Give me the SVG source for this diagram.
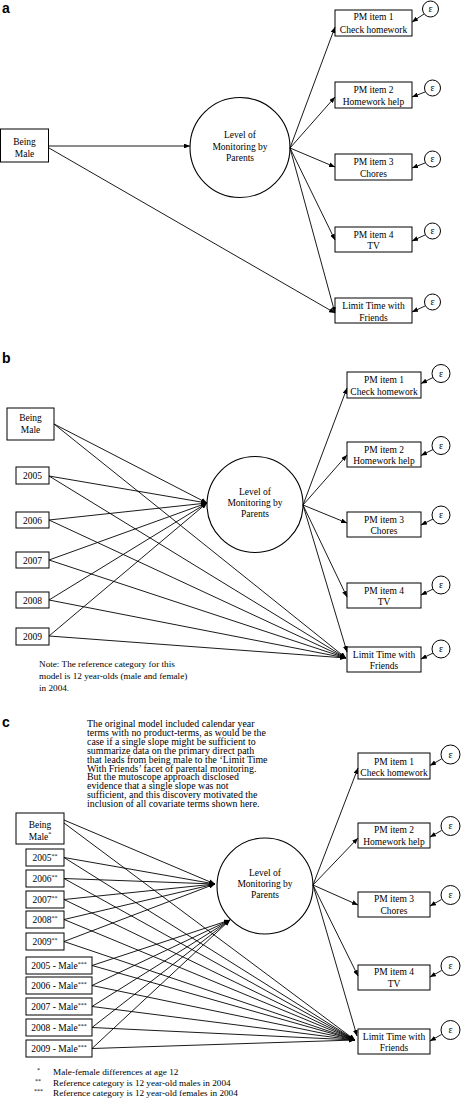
<svg xmlns="http://www.w3.org/2000/svg" width="461" height="1098" viewBox="0 0 461 1098">
<defs>
<marker id="ah" viewBox="0 0 10 8" refX="10" refY="4" markerWidth="6" markerHeight="4.8" markerUnits="userSpaceOnUse" orient="auto"><path d="M0,0 L10,4 L0,8 z" fill="#000"/></marker>
</defs>
<style>
.bx{fill:#fff;stroke:#000;stroke-width:1}
.lv{fill:#fff;stroke:#000;stroke-width:1.1}
.ep{fill:#fff;stroke:#000;stroke-width:1}
.t{font-family:"Liberation Serif","Times New Roman",serif;font-size:9.5px;fill:#000;text-anchor:middle}
.e{font-family:"Liberation Serif","Times New Roman",serif;font-size:10px;fill:#000;text-anchor:middle}
.p{font-family:"Liberation Serif","Times New Roman",serif;font-size:9.9px;fill:#000}
.f{font-family:"Liberation Serif","Times New Roman",serif;font-size:9.2px;fill:#000}
.lab{font-family:"Liberation Sans",Arial,sans-serif;font-weight:bold;font-size:14px;fill:#000}
.sup{font-size:6px}
#connectors line{stroke:#000;stroke-width:0.9;marker-end:url(#ah)}
</style>
<rect width="461" height="1098" fill="#fff"/>

<!-- panel labels -->
<text class="lab" x="2" y="13">a</text>
<text class="lab" x="2" y="363">b</text>
<text class="lab" x="2" y="727">c</text>

<!-- ===== Panel a nodes ===== -->
<g id="a-male"><rect class="bx" x="0.5" y="129" width="48" height="33"/><text class="t" x="24.5" y="145">Being</text><text class="t" x="24.5" y="157">Male</text></g>
<g id="a-lmp"><circle class="lv" cx="240" cy="147.5" r="50"/><text class="t" x="240" y="138">Level of</text><text class="t" x="240" y="149.5">Monitoring by</text><text class="t" x="240" y="160.5">Parents</text></g>
<g id="a-pm1"><rect class="bx" x="335" y="10" width="77" height="26"/><text class="t" x="373.5" y="20">PM item 1</text><text class="t" x="373.5" y="32.5">Check homework</text></g>
<g id="a-pm2"><rect class="bx" x="335" y="82" width="77" height="26"/><text class="t" x="373.5" y="92.5">PM item 2</text><text class="t" x="373.5" y="104.5">Homework help</text></g>
<g id="a-pm3"><rect class="bx" x="335" y="154" width="77" height="26"/><text class="t" x="373.5" y="164.5">PM item 3</text><text class="t" x="373.5" y="176.5">Chores</text></g>
<g id="a-pm4"><rect class="bx" x="335" y="227" width="77" height="25"/><text class="t" x="373.5" y="237.5">PM item 4</text><text class="t" x="373.5" y="249">TV</text></g>
<g id="a-lim"><rect class="bx" x="335" y="298" width="77" height="25"/><text class="t" x="373.5" y="308.5">Limit Time with</text><text class="t" x="373.5" y="320.5">Friends</text></g>
<g id="a-e1"><circle class="ep" cx="430.5" cy="9" r="8"/><text class="e" x="430.5" y="12">ε</text></g>
<g id="a-e2"><circle class="ep" cx="432.5" cy="88" r="8"/><text class="e" x="432.5" y="91">ε</text></g>
<g id="a-e3"><circle class="ep" cx="432.5" cy="159" r="8"/><text class="e" x="432.5" y="162">ε</text></g>
<g id="a-e4"><circle class="ep" cx="432.5" cy="231" r="8"/><text class="e" x="432.5" y="234">ε</text></g>
<g id="a-e5"><circle class="ep" cx="432.5" cy="302" r="8"/><text class="e" x="432.5" y="305">ε</text></g>

<!-- ===== Panel b nodes ===== -->
<g id="b-male"><rect class="bx" x="7" y="408" width="47" height="32"/><text class="t" x="30.5" y="421">Being</text><text class="t" x="30.5" y="432.5">Male</text></g>
<g id="b-2005"><rect class="bx" x="16" y="467" width="33" height="17"/><text class="t" x="32.5" y="479">2005</text></g>
<g id="b-2006"><rect class="bx" x="16" y="512" width="33" height="16"/><text class="t" x="32.5" y="523.5">2006</text></g>
<g id="b-2007"><rect class="bx" x="16" y="552" width="33" height="16"/><text class="t" x="32.5" y="563.5">2007</text></g>
<g id="b-2008"><rect class="bx" x="16" y="592" width="33" height="16"/><text class="t" x="32.5" y="603.5">2008</text></g>
<g id="b-2009"><rect class="bx" x="16" y="628" width="33" height="17"/><text class="t" x="32.5" y="640">2009</text></g>
<g id="b-lmp"><circle class="lv" cx="255" cy="504.5" r="48"/><text class="t" x="255" y="495">Level of</text><text class="t" x="255" y="506">Monitoring by</text><text class="t" x="255" y="517">Parents</text></g>
<g id="b-pm1"><rect class="bx" x="347" y="372" width="74" height="26"/><text class="t" x="384" y="383">PM item 1</text><text class="t" x="384" y="394.5">Check homework</text></g>
<g id="b-pm2"><rect class="bx" x="347" y="442" width="74" height="25"/><text class="t" x="384" y="452.5">PM item 2</text><text class="t" x="384" y="464">Homework help</text></g>
<g id="b-pm3"><rect class="bx" x="347" y="512" width="74" height="25"/><text class="t" x="384" y="522.5">PM item 3</text><text class="t" x="384" y="534">Chores</text></g>
<g id="b-pm4"><rect class="bx" x="347" y="583" width="74" height="25"/><text class="t" x="384" y="593.5">PM item 4</text><text class="t" x="384" y="605">TV</text></g>
<g id="b-lim"><rect class="bx" x="347" y="647" width="74" height="25"/><text class="t" x="384" y="657.5">Limit Time with</text><text class="t" x="384" y="669">Friends</text></g>
<g id="b-e1"><circle class="ep" cx="441" cy="373.5" r="9"/><text class="e" x="441" y="376.5">ε</text></g>
<g id="b-e2"><circle class="ep" cx="441" cy="445.5" r="9"/><text class="e" x="441" y="448.5">ε</text></g>
<g id="b-e3"><circle class="ep" cx="441" cy="515" r="9"/><text class="e" x="441" y="518">ε</text></g>
<g id="b-e4"><circle class="ep" cx="441" cy="585" r="9"/><text class="e" x="441" y="588">ε</text></g>
<g id="b-e5"><circle class="ep" cx="441" cy="649" r="9"/><text class="e" x="441" y="652">ε</text></g>
<g id="b-note"><text class="f" x="39" y="667">Note: The reference category for this</text><text class="f" x="39" y="679">model is 12 year-olds (male and female)</text><text class="f" x="39" y="690.5">in 2004.</text></g>

<!-- ===== Panel c nodes ===== -->
<g id="c-text">
<text class="p" x="87" y="727">The original model included calendar year</text>
<text class="p" x="87" y="735.9">terms with no product-terms, as would be the</text>
<text class="p" x="87" y="744.8">case if a single slope might be sufficient to</text>
<text class="p" x="87" y="753.7">summarize data on the primary direct path</text>
<text class="p" x="87" y="762.6">that leads from being male to the ‘Limit Time</text>
<text class="p" x="87" y="771.5">With Friends’ facet of parental monitoring.</text>
<text class="p" x="87" y="780.4">But the mutoscope approach disclosed</text>
<text class="p" x="87" y="789.3">evidence that a single slope was not</text>
<text class="p" x="87" y="798.2">sufficient, and this discovery motivated the</text>
<text class="p" x="87" y="807.1">inclusion of all covariate terms shown here.</text>
</g>
<g id="c-male"><rect class="bx" x="16" y="813" width="48" height="31"/><text class="t" x="40" y="828">Being</text><text class="t" x="40" y="839.5">Male<tspan class="sup" dy="-3.5">*</tspan></text></g>
<g id="c-2005"><rect class="bx" x="26" y="849" width="38" height="17"/><text class="t" x="45" y="861">2005<tspan class="sup" dy="-3.5">**</tspan></text></g>
<g id="c-2006"><rect class="bx" x="26" y="870" width="38" height="17"/><text class="t" x="45" y="882">2006<tspan class="sup" dy="-3.5">**</tspan></text></g>
<g id="c-2007"><rect class="bx" x="26" y="891" width="38" height="17"/><text class="t" x="45" y="903">2007<tspan class="sup" dy="-3.5">**</tspan></text></g>
<g id="c-2008"><rect class="bx" x="26" y="911" width="38" height="17"/><text class="t" x="45" y="923">2008<tspan class="sup" dy="-3.5">**</tspan></text></g>
<g id="c-2009"><rect class="bx" x="26" y="933" width="38" height="17"/><text class="t" x="45" y="945">2009<tspan class="sup" dy="-3.5">**</tspan></text></g>
<g id="c-2005m"><rect class="bx" x="26" y="957" width="66" height="17"/><text class="t" x="59" y="969">2005 - Male<tspan class="sup" dy="-3.5">***</tspan></text></g>
<g id="c-2006m"><rect class="bx" x="26" y="977" width="66" height="17"/><text class="t" x="59" y="989">2006 - Male<tspan class="sup" dy="-3.5">***</tspan></text></g>
<g id="c-2007m"><rect class="bx" x="26" y="998" width="66" height="17"/><text class="t" x="59" y="1010">2007 - Male<tspan class="sup" dy="-3.5">***</tspan></text></g>
<g id="c-2008m"><rect class="bx" x="26" y="1019" width="66" height="17"/><text class="t" x="59" y="1031">2008 - Male<tspan class="sup" dy="-3.5">***</tspan></text></g>
<g id="c-2009m"><rect class="bx" x="26" y="1040" width="66" height="17"/><text class="t" x="59" y="1052">2009 - Male<tspan class="sup" dy="-3.5">***</tspan></text></g>
<g id="c-lmp"><circle class="lv" cx="265" cy="886" r="48"/><text class="t" x="265" y="876">Level of</text><text class="t" x="265" y="887">Monitoring by</text><text class="t" x="265" y="898">Parents</text></g>
<g id="c-pm1"><rect class="bx" x="358" y="753" width="72" height="26"/><text class="t" x="394" y="764.5">PM item 1</text><text class="t" x="394" y="776">Check homework</text></g>
<g id="c-pm2"><rect class="bx" x="358" y="823" width="72" height="25"/><text class="t" x="394" y="833">PM item 2</text><text class="t" x="394" y="844.5">Homework help</text></g>
<g id="c-pm3"><rect class="bx" x="358" y="892" width="72" height="25"/><text class="t" x="394" y="902">PM item 3</text><text class="t" x="394" y="913.5">Chores</text></g>
<g id="c-pm4"><rect class="bx" x="358" y="965" width="72" height="25"/><text class="t" x="394" y="975">PM item 4</text><text class="t" x="394" y="986.5">TV</text></g>
<g id="c-lim"><rect class="bx" x="358" y="1029" width="72" height="25"/><text class="t" x="394" y="1039.5">Limit Time with</text><text class="t" x="394" y="1051">Friends</text></g>
<g id="c-e1"><circle class="ep" cx="450.5" cy="754.5" r="9.5"/><text class="e" x="450.5" y="757.5">ε</text></g>
<g id="c-e2"><circle class="ep" cx="450.5" cy="826" r="9.5"/><text class="e" x="450.5" y="829">ε</text></g>
<g id="c-e3"><circle class="ep" cx="450.5" cy="895" r="9.5"/><text class="e" x="450.5" y="898">ε</text></g>
<g id="c-e4"><circle class="ep" cx="450.5" cy="966" r="9.5"/><text class="e" x="450.5" y="969">ε</text></g>
<g id="c-e5"><circle class="ep" cx="450.5" cy="1030" r="9.5"/><text class="e" x="450.5" y="1033">ε</text></g>
<g id="c-notes">
<text class="f" x="37" y="1072"><tspan class="sup">*</tspan></text><text class="f" x="53" y="1075">Male-female differences at age 12</text>
<text class="f" x="35" y="1083"><tspan class="sup">**</tspan></text><text class="f" x="53" y="1086">Reference category is 12 year-old males in 2004</text>
<text class="f" x="34" y="1093"><tspan class="sup">***</tspan></text><text class="f" x="53" y="1096">Reference category is 12 year-old females in 2004</text>
</g>

<!-- ===== connectors ===== -->
<g id="connectors">
<!-- a -->
<line x1="49" y1="146" x2="190" y2="146"/>
<line x1="49" y1="148" x2="335" y2="313"/>
<line x1="290" y1="148" x2="335" y2="27"/>
<line x1="290" y1="148" x2="335" y2="97"/>
<line x1="290" y1="148" x2="335" y2="167"/>
<line x1="290" y1="148" x2="335" y2="240"/>
<line x1="290" y1="148" x2="335" y2="313"/>
<line x1="424" y1="14" x2="412" y2="22"/>
<line x1="425" y1="92" x2="412" y2="97"/>
<line x1="425" y1="163" x2="412" y2="168"/>
<line x1="425" y1="235" x2="412" y2="241"/>
<line x1="425" y1="306" x2="412" y2="312"/>
<!-- b -->
<line x1="54" y1="424" x2="207" y2="503"/>
<line x1="54" y1="424" x2="346" y2="658"/>
<line x1="49" y1="476" x2="207" y2="503"/>
<line x1="49" y1="476" x2="346" y2="658"/>
<line x1="49" y1="520" x2="207" y2="503"/>
<line x1="49" y1="520" x2="346" y2="658"/>
<line x1="49" y1="560" x2="207" y2="503"/>
<line x1="49" y1="560" x2="346" y2="658"/>
<line x1="49" y1="600" x2="207" y2="503"/>
<line x1="49" y1="600" x2="346" y2="658"/>
<line x1="49" y1="636" x2="207" y2="503"/>
<line x1="49" y1="636" x2="346" y2="658"/>
<line x1="303" y1="505" x2="347" y2="388"/>
<line x1="303" y1="505" x2="347" y2="455"/>
<line x1="303" y1="505" x2="347" y2="523"/>
<line x1="303" y1="505" x2="347" y2="597"/>
<line x1="303" y1="505" x2="347" y2="652"/>
<line x1="433" y1="377.5" x2="421" y2="383.5"/>
<line x1="433" y1="449.5" x2="421" y2="455.5"/>
<line x1="433" y1="519" x2="421" y2="525"/>
<line x1="433" y1="589" x2="421" y2="595"/>
<line x1="433" y1="653" x2="421" y2="659"/>
<!-- c -->
<line x1="64" y1="820" x2="215" y2="884"/>
<line x1="64" y1="823" x2="355" y2="1040"/>
<line x1="64" y1="857.5" x2="215" y2="884"/>
<line x1="64" y1="857.5" x2="355" y2="1040"/>
<line x1="64" y1="878.5" x2="215" y2="884"/>
<line x1="64" y1="878.5" x2="355" y2="1040"/>
<line x1="64" y1="899.5" x2="215" y2="884"/>
<line x1="64" y1="899.5" x2="355" y2="1040"/>
<line x1="64" y1="919.5" x2="215" y2="884"/>
<line x1="64" y1="919.5" x2="355" y2="1040"/>
<line x1="64" y1="941.5" x2="215" y2="884"/>
<line x1="64" y1="941.5" x2="355" y2="1040"/>
<line x1="92" y1="965.5" x2="230" y2="920"/>
<line x1="92" y1="965.5" x2="355" y2="1040"/>
<line x1="92" y1="985.5" x2="230" y2="920"/>
<line x1="92" y1="985.5" x2="355" y2="1040"/>
<line x1="92" y1="1006.5" x2="230" y2="920"/>
<line x1="92" y1="1006.5" x2="355" y2="1040"/>
<line x1="92" y1="1027.5" x2="230" y2="920"/>
<line x1="92" y1="1027.5" x2="355" y2="1040"/>
<line x1="92" y1="1048.5" x2="230" y2="920"/>
<line x1="92" y1="1048.5" x2="355" y2="1040"/>
<line x1="313" y1="885" x2="358" y2="768"/>
<line x1="313" y1="885" x2="358" y2="838"/>
<line x1="313" y1="885" x2="358" y2="905"/>
<line x1="313" y1="885" x2="358" y2="976"/>
<line x1="313" y1="885" x2="357" y2="1036"/>
<line x1="441.5" y1="759" x2="430" y2="765.5"/>
<line x1="441.5" y1="830.5" x2="430" y2="837"/>
<line x1="441.5" y1="899.5" x2="430" y2="906"/>
<line x1="441.5" y1="970.5" x2="430" y2="977"/>
<line x1="441.5" y1="1034.5" x2="430" y2="1041"/>
</g>
</svg>
